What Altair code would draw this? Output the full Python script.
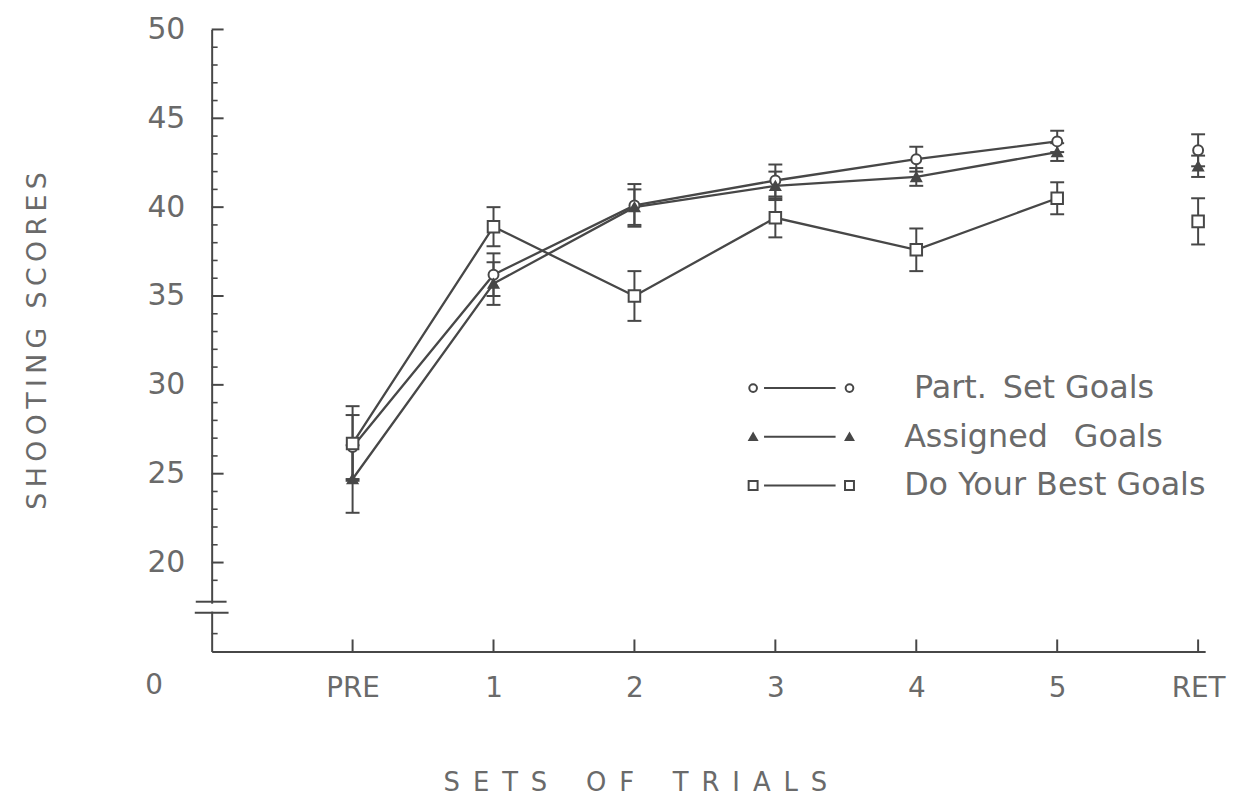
import json
import altair as alt
import pandas as pd

# ---------------- data ----------------
sessions = ["PRE", "1", "2", "3", "4", "5", "RET"]
series_names = ["Part.\u2002Set Goals", "Assigned\u2002 Goals", "Do Your Best Goals"]

part_means = [26.5, 36.2, 40.1, 41.5, 42.7, 43.7, 43.2]
part_se = [1.8, 1.2, 1.2, 0.9, 0.7, 0.6, 0.9]
assigned_means = [24.7, 35.7, 40.0, 41.2, 41.7, 43.1, 42.3]
assigned_se = [1.9, 1.2, 1.0, 0.8, 0.5, 0.5, 0.6]
best_means = [26.7, 38.9, 35.0, 39.4, 37.6, 40.5, 39.2]
best_se = [2.1, 1.1, 1.4, 1.1, 1.2, 0.9, 1.3]

y_major = [20, 25, 30, 35, 40, 45, 50]
y_minor = [16, 19, 21, 22, 23, 24, 26, 27, 28, 29, 31, 32, 33, 34, 36, 37, 38, 39,
           41, 42, 43, 44, 46, 47, 48, 49]

# ---------------- styling ----------------
W, H = 1000, 626
INK = "#474747"
TXT = "#6a6a6a"
FONT = "DejaVu Sans"

means = [part_means, assigned_means, best_means]
ses = [part_se, assigned_se, best_se]
markers = [
    dict(shape="circle", size=100, fill="white", stroke=INK),
    dict(shape="triangle-up", size=95, fill=INK, stroke=INK),
    dict(shape="square", size=135, fill="white", stroke=INK),
]

rows = []
for name, m, s in zip(series_names, means, ses):
    for i, (lab, v, e) in enumerate(zip(sessions, m, s)):
        rows.append(dict(series=name, session=lab, idx=i + 1, mean=v,
                         lo=round(v - e, 2), hi=round(v + e, 2)))
df = pd.DataFrame(rows)

xscale = alt.Scale(domain=[0, 7.05], nice=False, zero=False)
yscale = alt.Scale(domain=[15, 50], nice=False, zero=False)

label_expr = json.dumps(sessions) + "[datum.value - 1]"
title_x = "S\u2002E\u2002T\u2002S\u2002\u2002\u2002O\u2002F\u2002\u2002\u2002T\u2002R\u2002I\u2002A\u2002L\u2002S"
title_y = "\u2009".join("SHOOTING") + "\u2009 \u2009" + "\u2009".join("SCORES")

X = alt.X("idx:Q", scale=xscale,
          axis=alt.Axis(values=list(range(1, len(sessions) + 1)), labelExpr=label_expr,
                        ticks=False, grid=False, domainColor=INK, domainWidth=2,
                        labelFontSize=28, labelColor=TXT, labelFont=FONT, labelPadding=23,
                        title=title_x, titleFont=FONT, titleFontSize=26, titleColor=TXT,
                        titleFontWeight="normal", titleX=426, titleY=132,
                        titleBaseline="middle", titleAlign="center", titleAnchor="start"))
Y = alt.Y("mean:Q", scale=yscale,
          axis=alt.Axis(values=y_major, ticks=False, grid=False, domainColor=INK, domainWidth=2,
                        labelFontSize=30, labelColor=TXT, labelFont=FONT, labelPadding=27,
                        title=title_y, titleFont=FONT, titleFontSize=27, titleColor=TXT,
                        titleFontWeight="normal", titleX=-175, titleBaseline="middle"))

base = alt.Chart(df)
layers = []

# connecting lines (PRE..5 only, RET stands alone)
layers.append(
    base.transform_filter(alt.datum.idx <= 6)
    .mark_line(color=INK, strokeWidth=2.3)
    .encode(x=X, y=Y, detail="series:N")
)
# error bars
layers.append(base.mark_rule(color=INK, strokeWidth=2).encode(
    x=alt.X("idx:Q", scale=xscale), y=alt.Y("lo:Q", scale=yscale), y2="hi:Q"))
for col in ["lo", "hi"]:
    layers.append(base.mark_rule(color=INK, strokeWidth=2, xOffset=-7, x2Offset=7).encode(
        x=alt.X("idx:Q", scale=xscale), x2=alt.X2("idx:Q"), y=alt.Y(f"{col}:Q", scale=yscale)))
# points
for name, mk in zip(series_names, markers):
    layers.append(
        base.transform_filter(alt.datum.series == name)
        .mark_point(shape=mk["shape"], size=mk["size"], filled=True, fill=mk["fill"],
                    stroke=mk["stroke"], strokeWidth=2, opacity=1)
        .encode(x=alt.X("idx:Q", scale=xscale), y=alt.Y("mean:Q", scale=yscale))
    )

# inward axis ticks
ymaj = pd.DataFrame({"v": y_major})
ymin = pd.DataFrame({"v": y_minor})
xt = pd.DataFrame({"v": list(range(1, len(sessions) + 1))})
layers.append(alt.Chart(ymaj).mark_rule(color=INK, strokeWidth=2).encode(
    y=alt.Y("v:Q", scale=yscale), x=alt.value(0), x2=alt.value(12)))
layers.append(alt.Chart(ymin).mark_rule(color=INK, strokeWidth=1.6).encode(
    y=alt.Y("v:Q", scale=yscale), x=alt.value(0), x2=alt.value(6)))
layers.append(alt.Chart(xt).mark_rule(color=INK, strokeWidth=2).encode(
    x=alt.X("v:Q", scale=xscale), y=alt.value(H), y2=alt.value(H - 12)))

# axis break
brk = alt.Chart(pd.DataFrame({"k": [0]}))
layers.append(brk.mark_rule(color="white", strokeWidth=5).encode(
    x=alt.value(0), y=alt.value(578), y2=alt.value(586)))
layers.append(brk.mark_rule(color=INK, strokeWidth=2).encode(
    x=alt.value(-16), x2=alt.value(15), y=alt.value(576)))
layers.append(brk.mark_rule(color=INK, strokeWidth=2).encode(
    x=alt.value(-17), x2=alt.value(17), y=alt.value(587)))
# origin label
layers.append(alt.Chart(pd.DataFrame({"t": ["0"]})).mark_text(
    fontSize=28, font=FONT, color=TXT, align="center", baseline="middle").encode(
    x=alt.value(-58), y=alt.value(661), text="t:N"))

# legend
for i, (name, mk) in enumerate(zip(series_names, markers)):
    ry = 361 + 49 * i
    lg = alt.Chart(pd.DataFrame({"label": [name]}))
    layers.append(lg.mark_rule(color=INK, strokeWidth=2).encode(
        x=alt.value(556), x2=alt.value(628), y=alt.value(ry)))
    for px in (545, 642):
        layers.append(lg.mark_point(shape=mk["shape"], size=mk["size"] * 0.6, filled=True,
                                    fill=mk["fill"], stroke=mk["stroke"], strokeWidth=2,
                                    opacity=1).encode(x=alt.value(px), y=alt.value(ry)))
    layers.append(lg.mark_text(fontSize=32, font=FONT, color=TXT, align="left",
                               baseline="middle").encode(
        x=alt.value(697 if i else 707), y=alt.value(ry), text="label:N"))

chart = (
    alt.layer(*layers)
    .properties(width=W, height=H, padding={"left": 205, "top": 19, "right": 25, "bottom": 150},
                autosize=alt.AutoSizeParams(type="none"))
    .configure(background="white", view=alt.ViewConfig(stroke=None))
)

chart.save("out.html", embed_options={"renderer": "svg", "actions": False})
